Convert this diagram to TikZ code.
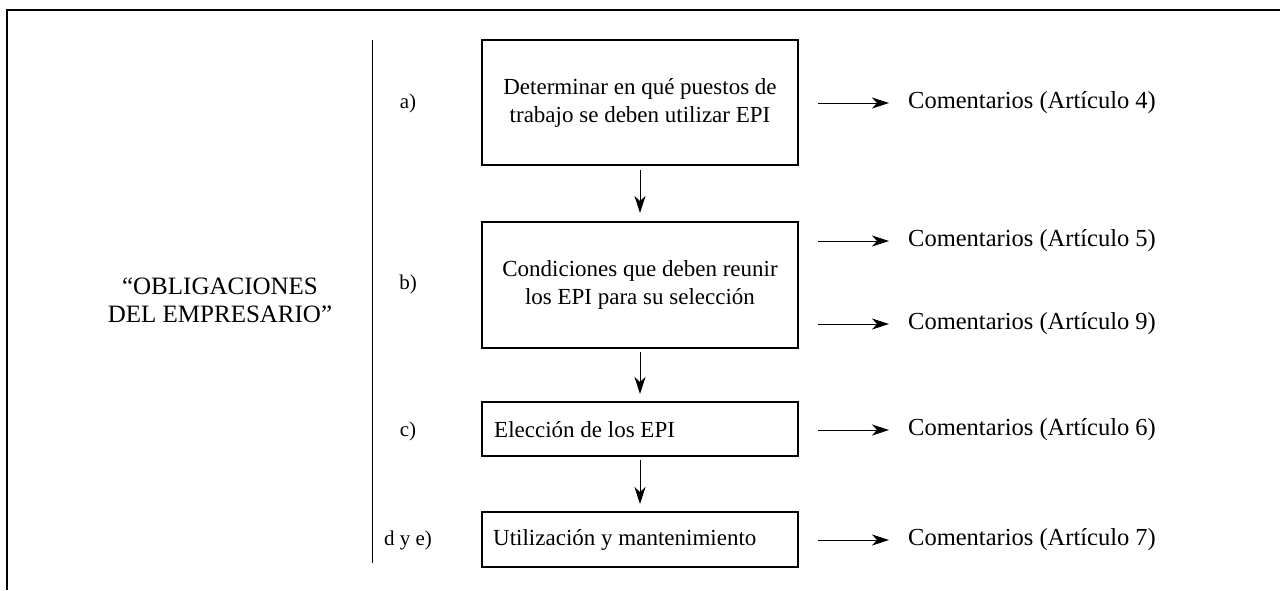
\documentclass[tikz,border=0pt]{standalone}
\usepackage{fontspec}
\setmainfont{Liberation Serif}
\usetikzlibrary{arrows.meta}
\begin{document}
\begin{tikzpicture}[x=1pt,y=-1pt,
  txt/.style={font=\fontsize{23}{28}\selectfont,inner sep=0pt},
  com/.style={font=\fontsize{24.5}{28}\selectfont,inner sep=0pt},
  lbl/.style={font=\fontsize{21}{24}\selectfont,inner sep=0pt},
  boxs/.style={draw,line width=1.1pt},
  arr/.style={line width=0.9pt,-{Stealth[length=17pt,width=11pt,inset=5pt]}}]
\useasboundingbox (0,0) rectangle (1280,590);
\draw[line width=1.6pt] (7,590) -- (7,10) -- (1280,10);
\draw[line width=0.9pt] (372,40) -- (372,563);
% boxes
\draw[boxs] (482,40) rectangle (798,165);
\draw[boxs] (482,222) rectangle (798,348);
\draw[boxs] (482,402) rectangle (798,456);
\draw[boxs] (482,512) rectangle (798,567);
\coordinate (a1) at (640,170); \coordinate (a2) at (640,213);
\coordinate (b1) at (640,352); \coordinate (b2) at (640,394);
\coordinate (c1) at (640,460); \coordinate (c2) at (640,504);
\draw[arr] (a1) -- (a2);
\draw[arr] (b1) -- (b2);
\draw[arr] (c1) -- (c2);
\node[txt,align=center] (ta) at (640,103) {Determinar en qué puestos de\\trabajo se deben utilizar EPI};
\node[txt,align=center] (tb) at (640,285) {Condiciones que deben reunir\\los EPI para su selección};
\node[txt,anchor=west] (tc) at (494,430) {Elección de los EPI};
\node[txt,anchor=west] (td) at (493,540) {Utilización y mantenimiento};
\node[lbl] (la) at (408,103) {a)};
\node[lbl] (lb) at (408,284) {b)};
\node[lbl] (lc) at (408,431) {c)};
\node[lbl] (ld) at (408,540) {d y e)};
\node[font=\fontsize{25}{28}\selectfont,inner sep=0pt,align=center] (ob) at (220,300) {“OBLIGACIONES\\DEL EMPRESARIO”};
\foreach \y/\n in {103/4,241/5,324/9,430/6,540/7}{
  \coordinate (s\n) at (818,\y);
  \node[com,anchor=west] (k\n) at (908,\y) {Comentarios (Artículo \n)};
  \draw[arr] (s\n) -- (k\n.west -| 889,\y);
}
\end{tikzpicture}
\end{document}
